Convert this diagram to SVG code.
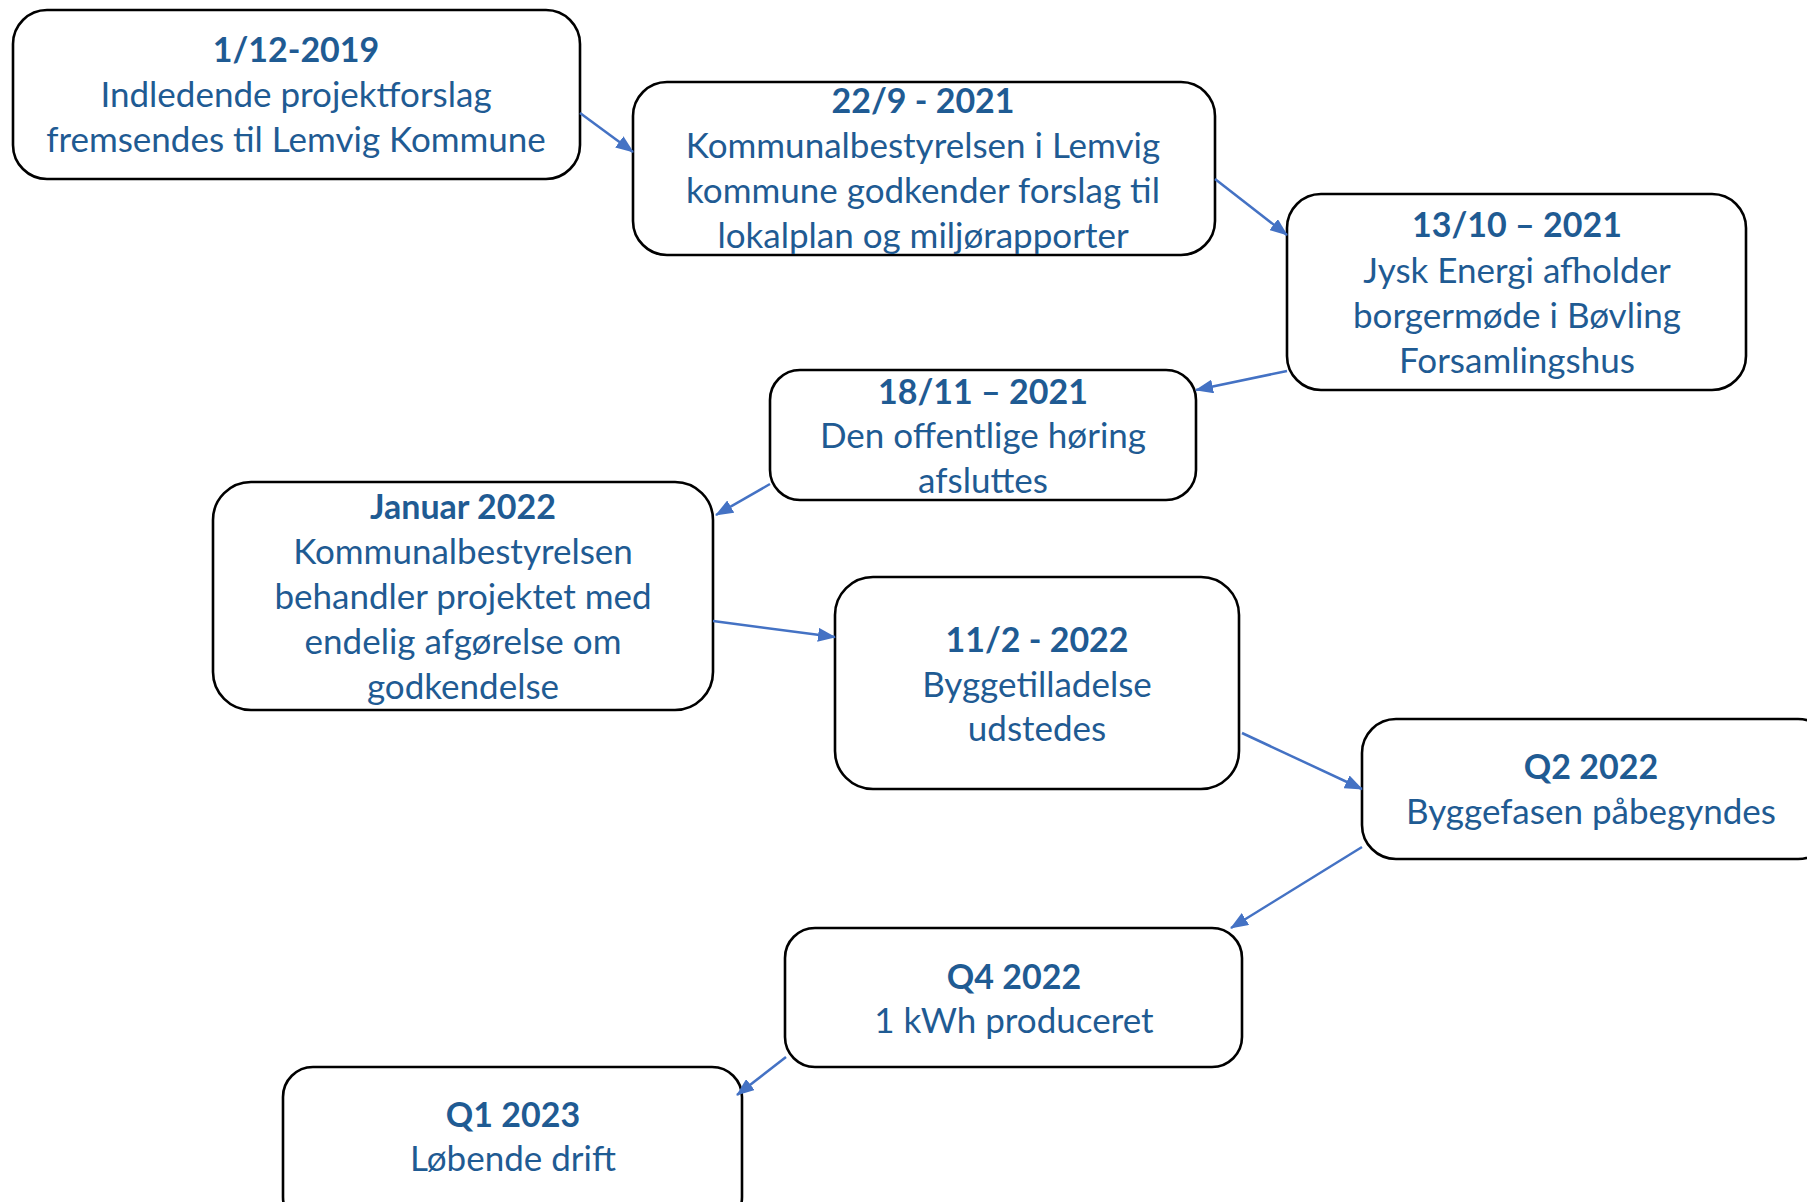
<svg xmlns="http://www.w3.org/2000/svg" width="1807" height="1202" viewBox="0 0 1807 1202">
<defs>
<style>
.box{fill:#fff;stroke:#000;stroke-width:2.6}
.t{font-family:Lato,"Open Sans","Liberation Sans",sans-serif;font-size:35px;fill:#1F5B93;text-anchor:middle}
.b{font-weight:bold;font-size:34px}
.c{stroke:#4472C4;stroke-width:2.5;fill:none;marker-end:url(#ah)}
</style>
<marker id="ah" viewBox="0 0 18 14" refX="17" refY="7" markerWidth="18" markerHeight="14" markerUnits="userSpaceOnUse" orient="auto">
<path d="M0,0 L18,7 L0,14 z" fill="#4472C4"/>
</marker>
</defs>
<rect width="1807" height="1202" fill="#fff"/>
<g id="n1">
<rect class="box" x="13" y="10" width="567" height="169" rx="34"/>
<text class="t b" x="296" y="62">1/12-2019</text>
<text class="t" x="296" y="107">Indledende projektforslag</text>
<text class="t" x="296" y="152">fremsendes til Lemvig Kommune</text>
</g>
<g id="n2">
<rect class="box" x="633" y="82" width="582" height="173" rx="34"/>
<text class="t b" x="923" y="113">22/9 - 2021</text>
<text class="t" x="923" y="158">Kommunalbestyrelsen i Lemvig</text>
<text class="t" x="923" y="203">kommune godkender forslag til</text>
<text class="t" x="923" y="248">lokalplan og miljørapporter</text>
</g>
<g id="n3">
<rect class="box" x="1287" y="194" width="459" height="196" rx="34"/>
<text class="t b" x="1517" y="237">13/10 – 2021</text>
<text class="t" x="1517" y="283">Jysk Energi afholder</text>
<text class="t" x="1517" y="328">borgermøde i Bøvling</text>
<text class="t" x="1517" y="373">Forsamlingshus</text>
</g>
<g id="n4">
<rect class="box" x="770" y="370" width="426" height="130" rx="30"/>
<text class="t b" x="983" y="404">18/11 – 2021</text>
<text class="t" x="983" y="448">Den offentlige høring</text>
<text class="t" x="983" y="493">afsluttes</text>
</g>
<g id="n5">
<rect class="box" x="213" y="482" width="500" height="228" rx="38"/>
<text class="t b" x="463" y="519">Januar 2022</text>
<text class="t" x="463" y="564">Kommunalbestyrelsen</text>
<text class="t" x="463" y="609">behandler projektet med</text>
<text class="t" x="463" y="654">endelig afgørelse om</text>
<text class="t" x="463" y="699">godkendelse</text>
</g>
<g id="n6">
<rect class="box" x="835" y="577" width="404" height="212" rx="38"/>
<text class="t b" x="1037" y="652">11/2 - 2022</text>
<text class="t" x="1037" y="697">Byggetilladelse</text>
<text class="t" x="1037" y="741">udstedes</text>
</g>
<g id="n7">
<rect class="box" x="1362" y="719" width="470" height="140" rx="34"/>
<text class="t b" x="1591" y="779">Q2 2022</text>
<text class="t" x="1591" y="824">Byggefasen påbegyndes</text>
</g>
<g id="n8">
<rect class="box" x="785" y="928" width="457" height="139" rx="30"/>
<text class="t b" x="1014" y="989">Q4 2022</text>
<text class="t" x="1014" y="1033">1 kWh produceret</text>
</g>
<g id="n9">
<rect class="box" x="283" y="1067" width="459" height="160" rx="30"/>
<text class="t b" x="513" y="1127">Q1 2023</text>
<text class="t" x="513" y="1171">Løbende drift</text>
</g>
<g id="connectors">
<line class="c" x1="580" y1="113" x2="633" y2="152"/>
<line class="c" x1="1215" y1="179" x2="1287" y2="235"/>
<line class="c" x1="1287" y1="371" x2="1196" y2="390"/>
<line class="c" x1="770" y1="484" x2="716" y2="515"/>
<line class="c" x1="713" y1="621" x2="835" y2="637"/>
<line class="c" x1="1242" y1="733" x2="1362" y2="789"/>
<line class="c" x1="1362" y1="847" x2="1231" y2="928"/>
<line class="c" x1="786" y1="1057" x2="737" y2="1095"/>
</g>
</svg>
